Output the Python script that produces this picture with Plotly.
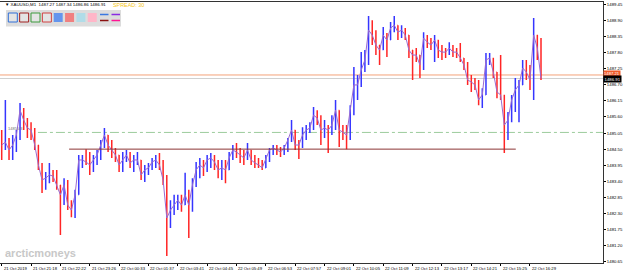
import plotly.graph_objects as go

# ---------------- data (XAUUSD, 8-minute aggregates) -------------
high = [1485.15, 1486.18, 1484.88, 1484.98, 1485.15, 1486.07, 1485.90, 1485.56, 1485.42, 1485.22,
        1484.64, 1484.03, 1483.72, 1484.03, 1483.79, 1483.79, 1483.28, 1483.51, 1483.45, 1482.76,
        1483.11, 1484.30, 1484.30, 1484.50, 1484.40, 1484.30, 1484.47, 1484.81, 1485.22, 1484.98,
        1484.81, 1484.54, 1484.30, 1484.40, 1484.47, 1484.40, 1484.30, 1484.40, 1484.13, 1483.96,
        1484.03, 1484.20, 1484.30, 1484.37, 1484.13, 1483.62, 1482.76, 1482.94, 1482.94, 1482.94,
        1483.69, 1483.11, 1483.51, 1484.06, 1484.20, 1484.13, 1484.30, 1484.37, 1484.30, 1484.13,
        1484.13, 1484.13, 1484.40, 1484.64, 1484.71, 1484.54, 1484.47, 1484.71, 1484.47, 1484.30,
        1484.20, 1484.13, 1484.30, 1484.54, 1484.64, 1484.64, 1484.57, 1484.64, 1484.88, 1485.49,
        1485.15, 1484.81, 1485.25, 1485.32, 1485.42, 1485.94, 1485.83, 1485.66, 1485.49, 1485.32,
        1485.66, 1486.18, 1485.83, 1485.32, 1485.32, 1486.00, 1487.30, 1487.03, 1487.81, 1487.88,
        1489.04, 1488.90, 1488.56, 1488.05, 1488.67, 1488.46, 1488.84, 1489.04, 1488.73, 1488.73,
        1488.63, 1488.39, 1487.88, 1487.95, 1487.71, 1488.49, 1488.39, 1488.29, 1488.39, 1488.15,
        1488.05, 1487.95, 1488.15, 1488.05, 1487.95, 1488.12, 1487.61, 1487.47, 1487.03, 1486.93,
        1486.86, 1486.58, 1487.78, 1487.78, 1487.61, 1487.13, 1487.71, 1486.35, 1485.77, 1486.35,
        1486.93, 1486.86, 1487.54, 1487.54, 1487.37, 1488.97, 1488.29, 1488.29]
low = [1484.13, 1484.47, 1484.13, 1484.13, 1484.40, 1484.81, 1485.15, 1484.88, 1484.81, 1484.47,
       1483.79, 1483.00, 1483.11, 1483.34, 1483.38, 1483.11, 1481.57, 1482.59, 1482.42, 1482.18,
       1482.15, 1482.94, 1483.86, 1483.96, 1483.62, 1483.72, 1483.96, 1484.13, 1484.54, 1484.40,
       1484.20, 1484.06, 1483.72, 1483.72, 1484.06, 1483.86, 1483.72, 1483.96, 1483.45, 1483.38,
       1483.62, 1483.79, 1483.86, 1483.79, 1483.28, 1480.85, 1481.81, 1482.25, 1482.42, 1482.36,
       1482.59, 1481.47, 1482.36, 1483.21, 1483.51, 1483.58, 1483.72, 1483.86, 1483.79, 1483.51,
       1483.45, 1483.34, 1483.86, 1484.13, 1484.20, 1484.03, 1483.96, 1484.13, 1483.96, 1483.86,
       1483.86, 1483.79, 1483.86, 1484.06, 1484.30, 1484.30, 1484.23, 1484.30, 1484.40, 1484.74,
       1484.47, 1484.16, 1484.54, 1484.81, 1485.05, 1485.15, 1485.32, 1484.64, 1484.88, 1484.37,
       1484.98, 1485.15, 1484.57, 1484.81, 1484.50, 1484.81, 1485.66, 1486.18, 1486.62, 1487.13,
       1487.37, 1488.05, 1487.71, 1487.37, 1488.05, 1487.64, 1488.22, 1488.49, 1488.22, 1488.29,
       1488.22, 1487.61, 1486.86, 1487.47, 1486.93, 1487.20, 1487.95, 1487.88, 1487.47, 1487.61,
       1487.54, 1487.61, 1487.71, 1487.64, 1487.61, 1487.47, 1487.20, 1486.69, 1486.45, 1486.52,
       1486.00, 1485.90, 1486.35, 1487.37, 1486.93, 1486.24, 1486.18, 1484.37, 1484.81, 1485.42,
       1485.77, 1485.42, 1486.69, 1486.86, 1486.52, 1486.18, 1487.54, 1486.86]
close = [1484.64, 1484.74, 1484.47, 1484.64, 1484.98, 1485.83, 1485.49, 1485.22, 1485.15, 1484.64,
         1483.96, 1483.45, 1483.51, 1483.62, 1483.58, 1483.28, 1482.94, 1483.28, 1482.59, 1482.42,
         1482.94, 1484.13, 1484.13, 1484.06, 1483.96, 1484.13, 1484.30, 1484.64, 1484.98, 1484.64,
         1484.47, 1484.30, 1483.96, 1484.13, 1484.30, 1484.03, 1484.13, 1484.13, 1483.62, 1483.79,
         1483.86, 1484.06, 1484.13, 1483.96, 1483.45, 1482.15, 1482.42, 1482.59, 1482.76, 1482.59,
         1482.94, 1482.59, 1483.28, 1483.79, 1483.96, 1483.86, 1484.13, 1484.20, 1484.06, 1483.79,
         1483.86, 1483.79, 1484.20, 1484.47, 1484.40, 1484.30, 1484.20, 1484.47, 1484.13, 1484.03,
         1483.96, 1483.86, 1484.20, 1484.47, 1484.54, 1484.47, 1484.40, 1484.54, 1484.81, 1485.15,
         1484.64, 1484.64, 1484.98, 1485.15, 1485.22, 1485.66, 1485.56, 1485.15, 1485.22, 1485.15,
         1485.32, 1485.83, 1485.15, 1485.08, 1484.98, 1485.83, 1486.69, 1486.69, 1487.20, 1487.54,
         1488.56, 1488.39, 1488.05, 1487.88, 1488.39, 1488.22, 1488.63, 1488.73, 1488.49, 1488.56,
         1488.39, 1487.88, 1487.71, 1487.71, 1487.37, 1488.29, 1488.15, 1488.05, 1488.22, 1487.88,
         1487.81, 1487.81, 1487.95, 1487.81, 1487.81, 1487.61, 1487.37, 1486.86, 1486.79, 1486.69,
         1486.18, 1486.35, 1487.54, 1487.61, 1487.13, 1486.45, 1486.35, 1485.32, 1485.49, 1486.18,
         1486.52, 1486.69, 1487.27, 1487.13, 1486.86, 1488.39, 1487.95, 1486.91]
first_open = 1484.98
bar_minutes = 8

time_labels = ["21 Oct 2019", "21 Oct 21:18", "21 Oct 22:22", "21 Oct 23:26", "22 Oct 00:33",
               "22 Oct 01:37", "22 Oct 03:41", "22 Oct 04:45", "22 Oct 05:49", "22 Oct 06:53",
               "22 Oct 07:57", "22 Oct 09:01", "22 Oct 10:05", "22 Oct 11:09", "22 Oct 12:13",
               "22 Oct 13:17", "22 Oct 14:21", "22 Oct 15:25", "22 Oct 16:29"]
label_every = 64  # minutes (bars) between time labels

price_labels = ["1480.65", "1481.20", "1481.75", "1482.30", "1482.85", "1483.40", "1483.95",
                "1484.50", "1485.05", "1485.60", "1486.15", "1486.70", "1487.25", "1487.80",
                "1488.35", "1488.90", "1489.45"]

bid = 1486.91
ask_line = 1487.03
level_green = 1485.07
support_level = 1484.50
support_from, support_to = 147, 1121   # bar index
green_from = 79
header = "\u25bc XAUUSD,M1  1487.27 1487.34 1486.86 1486.91"
spread_text = "SPREAD: 30"

# ---------------- build -------------
x_idx = [i * bar_minutes for i in range(len(close))]
opens = [first_open] + close[:-1]
hi = [max(h, o, c) for h, o, c in zip(high, opens, close)]
lo = [min(l, o, c) for l, o, c in zip(low, opens, close)]

W, H = 625, 273
L, R, T, B = 0, 22, 2, 10
pw, ph = W - L - R, H - T - B

def px(x):
    return (x - L) / pw

def py(y):
    return (H - B - y) / ph

FONT = "Liberation Sans"

fig = go.Figure()
# thin connecting path through closes (gives the dense M1 look)
fig.add_trace(go.Scatter(x=x_idx, y=close, mode="lines", line=dict(color="#9a6ad0", width=1),
                         showlegend=False, hoverinfo="skip"))
fig.add_trace(go.Ohlc(
    x=x_idx, open=opens, high=hi, low=lo, close=close,
    increasing=dict(line=dict(color="#3535ff", width=1.5)),
    decreasing=dict(line=dict(color="#ff2525", width=1.5)),
    tickwidth=0.12, showlegend=False, hoverinfo="skip"))

shapes = []
# current price lines
shapes.append(dict(type="line", xref="paper", yref="y", x0=0, x1=1, y0=ask_line, y1=ask_line,
                   line=dict(color="#f4a27a", width=1), layer="below"))
shapes.append(dict(type="line", xref="paper", yref="y", x0=0, x1=1, y0=bid, y1=bid,
                   line=dict(color="#d0d0d0", width=1), layer="below"))
# green dash-dot level
shapes.append(dict(type="line", xref="x", yref="y", x0=green_from, x1=1311, y0=level_green,
                   y1=level_green, line=dict(color="#9ccc9c", width=1, dash="dashdot"), layer="below"))
# support trend line
shapes.append(dict(type="line", xref="x", yref="y", x0=support_from, x1=support_to,
                   y0=support_level, y1=support_level, line=dict(color="#8b3535", width=1)))

# toolbar panel
shapes.append(dict(type="rect", xref="paper", yref="paper", x0=px(6), x1=px(121), y0=py(26.5), y1=py(10),
                   fillcolor="#dcdcdc", line=dict(width=0)))
boxes = [("#2f6fd8", None), ("#a02020", None), ("#3c9a3c", None), ("#d04040", None),
         (None, "#6495ed"), (None, "#f08080"), (None, "#b0dce8"), (None, "#ffb6c8")]
bx = 8.3
for border, fill in boxes:
    shapes.append(dict(type="rect", xref="paper", yref="paper", x0=px(bx), x1=px(bx + 9), y0=py(22),
                       y1=py(13), fillcolor=fill if fill else "#e4e4e4",
                       line=dict(color=border if border else fill, width=1 if border else 0)))
    bx += 11.35
for (c1, c2), xx in [(("#3a78e0", "#8b1010"), 100.0), (("#8a2be2", "#ff1493"), 111.5)]:
    shapes.append(dict(type="line", xref="paper", yref="paper", x0=px(xx), x1=px(xx + 8.5), y0=py(14.5),
                       y1=py(14.5), line=dict(color=c1, width=1.5)))
    shapes.append(dict(type="line", xref="paper", yref="paper", x0=px(xx), x1=px(xx + 8.5), y0=py(20.5),
                       y1=py(20.5), line=dict(color=c2, width=1.5)))

annotations = []
for i, t in enumerate(time_labels):
    annotations.append(dict(x=i * label_every, y=0, xref="x", yref="paper", text=t, showarrow=False,
                            xanchor="left", yanchor="top", xshift=0, yshift=-1,
                            font=dict(family=FONT, size=4.2, color="#000")))
annotations.append(dict(x=px(3), y=py(0.5), xref="paper", yref="paper", text=header, showarrow=False,
                        xanchor="left", yanchor="top", font=dict(family=FONT, size=4.4, color="#000")))
annotations.append(dict(x=px(111), y=py(0.3), xref="paper", yref="paper", text=spread_text,
                        showarrow=False, xanchor="left", yanchor="top",
                        font=dict(family=FONT, size=5.4, color="#f5c518")))
annotations.append(dict(x=px(3), y=py(245), xref="paper", yref="paper", text="<b>arcticmoneys</b>",
                        showarrow=False, xanchor="left", yanchor="top",
                        font=dict(family=FONT, size=11, color="#c8c8c8")))
annotations.append(dict(x=px(6), y=level_green, xref="paper", yref="y", text="1485.03",
                        showarrow=False, xanchor="left", yanchor="bottom", yshift=-1,
                        font=dict(family=FONT, size=4, color="#707070")))
# price boxes on axis
annotations.append(dict(x=1, y=ask_line, xref="paper", yref="y", text="1487.21", showarrow=False,
                        xanchor="left", yanchor="middle", bgcolor="#f05a28", borderpad=0,
                        font=dict(family=FONT, size=4.2, color="#fff"), yshift=1.5))
annotations.append(dict(x=1, y=bid, xref="paper", yref="y", text=f"{bid:.2f}", showarrow=False,
                        xanchor="left", yanchor="middle", bgcolor="#000", borderpad=0.6,
                        font=dict(family=FONT, size=4.3, color="#fff")))

fig.update_layout(
    width=W, height=H, margin=dict(l=L, r=R, t=T, b=B),
    paper_bgcolor="#fff", plot_bgcolor="#fff", showlegend=False,
    shapes=shapes, annotations=annotations,
    xaxis=dict(range=[-3.7, 1311.2], showgrid=False, zeroline=False, rangeslider=dict(visible=False),
               tickvals=[i * label_every for i in range(len(time_labels))], showticklabels=False,
               ticks="outside", ticklen=2, tickcolor="#000", showline=True, linecolor="#333",
               linewidth=1, mirror=True, fixedrange=True),
    yaxis=dict(range=[1480.615, 1489.52], side="right", showgrid=False, zeroline=False,
               tickvals=[float(v) for v in price_labels], ticktext=price_labels,
               ticks="outside", ticklen=2, tickcolor="#000", showline=True, linecolor="#333",
               linewidth=1, mirror=True, automargin=False,
               tickfont=dict(family=FONT, size=4.3, color="#000")),
)

fig.write_html("out.html")
